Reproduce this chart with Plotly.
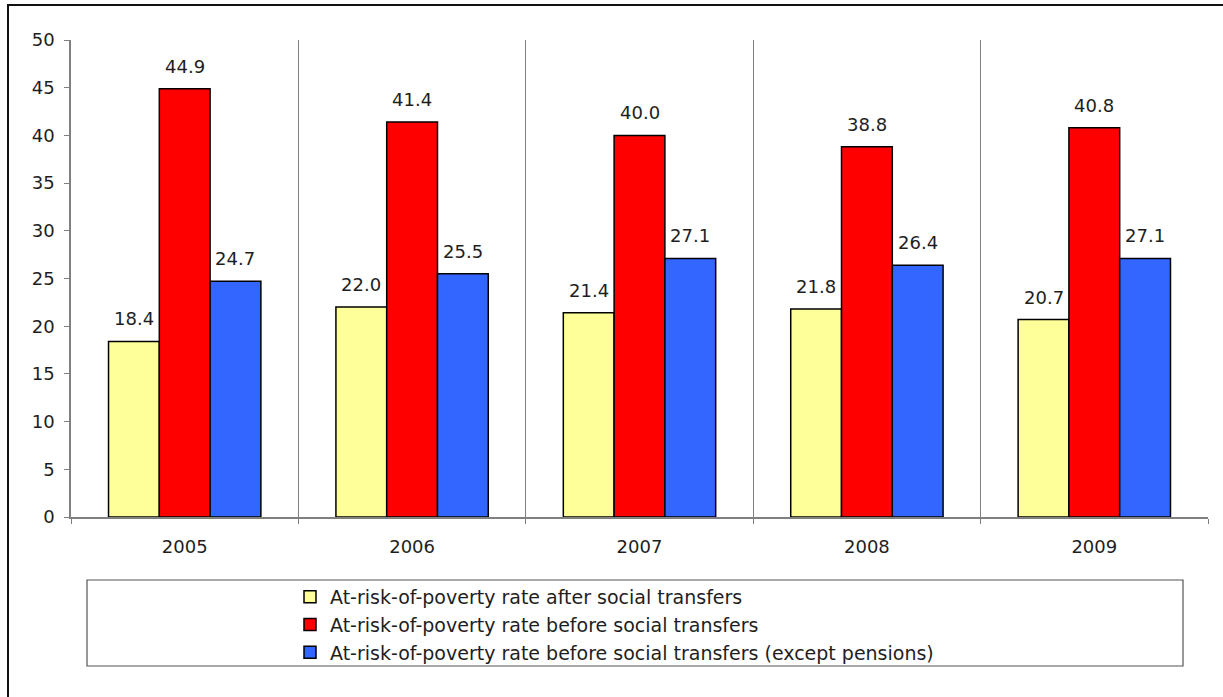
import plotly.graph_objects as go

years = ["2005", "2006", "2007", "2008", "2009"]
after_transfers = [18.4, 22.0, 21.4, 21.8, 20.7]
before_transfers = [44.9, 41.4, 40.0, 38.8, 40.8]
before_except_pensions = [24.7, 25.5, 27.1, 26.4, 27.1]

series_names = [
    "At-risk-of-poverty rate after social transfers",
    "At-risk-of-poverty rate before social transfers",
    "At-risk-of-poverty rate before social transfers (except pensions)",
]
series_values = [after_transfers, before_transfers, before_except_pensions]
colors = ["#FFFF99", "#FF0000", "#3366FF"]

W, H = 1223, 697
L, R, T, B = 71, 15, 40, 180
pw = W - L - R
ph = H - T - B

FONT = "DejaVu Sans, Verdana, sans-serif"
TXT = "#1e1e1e"
fig = go.Figure()
for k, (name, vals, c) in enumerate(zip(series_names, series_values, colors)):
    fig.add_trace(go.Bar(
        x=years, y=vals, name=name, legendgroup=f"g{k}",
        marker=dict(color=c, line=dict(color="black", width=1.5)),
    ))

bargap = 0.33
cat_w = pw / len(years)
bar_w = cat_w * (1 - bargap) / 3
annotations = []
for i, vals in enumerate(series_values):
    for j, v in enumerate(vals):
        annotations.append(dict(
            x=j, y=v, xref="x", yref="y", text=f"{v:.1f}",
            showarrow=False, yanchor="bottom", xanchor="center",
            xshift=(i - 1) * bar_w, yshift=10,
            font=dict(family=FONT, size=18, color=TXT),
        ))

def px_x(p):
    return (p - L) / pw

def px_y(p):
    return (H - B - p) / ph

shapes = [
    dict(type="rect", xref="paper", yref="paper",
         x0=px_x(8), x1=px_x(1240), y0=px_y(720), y1=px_y(5),
         line=dict(color="#111", width=2), fillcolor="rgba(0,0,0,0)"),
    dict(type="rect", xref="paper", yref="paper",
         x0=px_x(87), x1=px_x(1183), y0=px_y(666), y1=px_y(580),
         line=dict(color="#555", width=1.2), fillcolor="rgba(0,0,0,0)"),
]

fig.update_layout(
    width=W, height=H,
    margin=dict(l=L, r=R, t=T, b=B),
    barmode="group", bargap=bargap, bargroupgap=0,
    plot_bgcolor="white", paper_bgcolor="white",
    font=dict(family=FONT, size=18, color=TXT),
    showlegend=True,
    legend=dict(
        x=px_x(290), y=px_y(578), xanchor="left", yanchor="top",
        bgcolor="rgba(0,0,0,0)", borderwidth=0,
        font=dict(family=FONT, size=19, color=TXT),
        traceorder="normal", itemwidth=30, tracegroupgap=0,
    ),
    annotations=annotations,
    shapes=shapes,
)
fig.update_xaxes(
    type="category", tickson="boundaries",
    showgrid=True, gridcolor="#808080", gridwidth=1,
    showline=True, linecolor="#808080", linewidth=1.5,
    ticks="outside", ticklen=5, tickcolor="#808080",
    ticklabelstandoff=13,
    tickfont=dict(family=FONT, size=18, color=TXT),
    zeroline=False, range=[-0.5, 4.5],
)
fig.update_yaxes(
    range=[0, 50], dtick=5, showgrid=False, zeroline=False,
    showline=True, linecolor="#808080", linewidth=1.5,
    ticks="outside", ticklen=5, tickcolor="#808080",
    ticklabelstandoff=6,
    tickfont=dict(family=FONT, size=18, color=TXT),
)

fig.write_html("out.html")
